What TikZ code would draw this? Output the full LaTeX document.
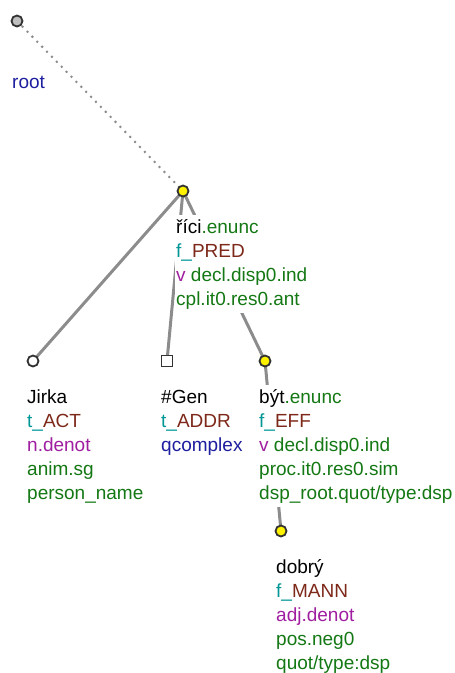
\documentclass[tikz,border=0pt]{standalone}
\usepackage{fontspec}
\setmainfont{Liberation Sans}
\definecolor{lemgreen}{RGB}{20,120,20}
\definecolor{funteal}{RGB}{0,150,150}
\definecolor{funbrown}{RGB}{125,40,25}
\definecolor{mpurple}{RGB}{160,30,160}
\definecolor{mblue}{RGB}{30,30,160}
\definecolor{edgegray}{RGB}{140,140,140}
\definecolor{nodeline}{RGB}{50,50,50}
\tikzset{
  edgeline/.style={draw=edgegray, line width=3pt},
  rootline/.style={draw=edgegray, line width=2pt, dash pattern=on 2pt off 5pt},
  tnode/.style={circle, draw=nodeline, line width=1.8pt, minimum size=11pt, inner sep=0pt},
  ynode/.style={tnode, fill=yellow},
  gnode/.style={tnode, fill=black!25},
  wnode/.style={tnode, fill=white},
  snode/.style={rectangle, draw=nodeline, fill=white, line width=1.8pt, minimum size=11pt, inner sep=0pt},
  lab/.style={anchor=north west, align=left, fill=white, inner sep=1pt,
    font=\fontsize{19}{24}\selectfont},
}
\newcommand{\gr}[1]{\textcolor{lemgreen}{#1}}
\newcommand{\tl}[1]{\textcolor{funteal}{#1}}
\newcommand{\br}[1]{\textcolor{funbrown}{#1}}
\newcommand{\pu}[1]{\textcolor{mpurple}{#1}}
\newcommand{\bl}[1]{\textcolor{mblue}{#1}}
\begin{document}
\begin{tikzpicture}[x=1pt,y=-1pt]
\useasboundingbox (0,0) rectangle (455,673);
% node positions
\coordinate (root) at (17,21);
\coordinate (rici) at (183,191);
\coordinate (jirka) at (33,361);
\coordinate (gen) at (167,361);
\coordinate (byt) at (265,361);
\coordinate (dobry) at (281,531);
% edges
\draw[rootline] (root) -- (rici);
\draw[edgeline] (rici) -- (jirka);
\draw[edgeline] (rici) -- (gen);
\draw[edgeline] (rici) -- (byt);
\draw[edgeline] (byt) -- (dobry);
% labels
\node[lab] (lroot) at (11,70.2) {\strut\bl{root}};
\node[lab] (lrici) at (175,215.2) {\strut říci\gr{.enunc}\\\strut\tl{f\_}\br{PRED}\\\strut\pu{v} \gr{decl.disp0.ind}\\\strut\gr{cpl.it0.res0.ant}};
\node[lab] (ljirka) at (26,385.2) {\strut Jirka\\\strut\tl{t\_}\br{ACT}\\\strut\pu{n.denot}\\\strut\gr{anim.sg}\\\strut\gr{person\_name}};
\node[lab] (lgen) at (160,385.2) {\strut\#Gen\\\strut\tl{t\_}\br{ADDR}\\\strut\bl{qcomplex}};
\node[lab] (lbyt) at (258,385.2) {\strut být\gr{.enunc}\\\strut\tl{f\_}\br{EFF}\\\strut\pu{v} \gr{decl.disp0.ind}\\\strut\gr{proc.it0.res0.sim}\\\strut\gr{dsp\_root.quot/type:dsp}};
\node[lab] (ldobry) at (275,555.2) {\strut dobrý\\\strut\tl{f\_}\br{MANN}\\\strut\pu{adj.denot}\\\strut\gr{pos.neg0}\\\strut\gr{quot/type:dsp}};
% nodes
\node[gnode] (nroot) at (root) {};
\node[ynode] (nrici) at (rici) {};
\node[wnode] (njirka) at (jirka) {};
\node[snode] (ngen) at (gen) {};
\node[ynode] (nbyt) at (byt) {};
\node[ynode] (ndobry) at (dobry) {};
\end{tikzpicture}
\end{document}
